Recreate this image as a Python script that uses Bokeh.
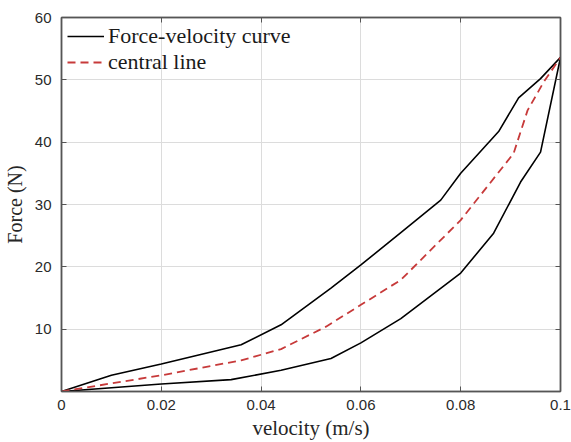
from bokeh.plotting import figure
from bokeh.models import LinearAxis, FixedTicker, Legend, LegendItem, Range1d
from bokeh.embed import file_html
from bokeh.resources import INLINE

# Force-velocity loop: loading (upper) branch and unloading (lower) branch
velocity_upper = [0.0, 0.010, 0.020, 0.036, 0.044, 0.054, 0.060, 0.068, 0.076, 0.080, 0.0876, 0.0916, 0.096, 0.100]
force_upper = [0.0, 2.6, 4.4, 7.5, 10.7, 16.6, 20.3, 25.5, 30.7, 35.0, 41.7, 47.1, 50.2, 53.6]

velocity_lower = [0.0, 0.020, 0.034, 0.044, 0.054, 0.060, 0.068, 0.080, 0.0866, 0.092, 0.096, 0.100]
force_lower = [0.0, 1.2, 1.9, 3.4, 5.3, 7.8, 11.7, 19.0, 25.4, 33.6, 38.4, 53.6]

# Central line
velocity_central = [0.0, 0.020, 0.036, 0.044, 0.053, 0.060, 0.068, 0.080, 0.0906, 0.0934, 0.0966, 0.100]
force_central = [0.0, 2.6, 5.0, 6.8, 10.4, 13.9, 17.9, 27.5, 38.2, 45.1, 49.6, 53.6]

x_ticks = [0, 0.02, 0.04, 0.06, 0.08, 0.1]
x_tick_labels = ["0", "0.02", "0.04", "0.06", "0.08", "0.1"]
y_ticks = [10, 20, 30, 40, 50, 60]
y_tick_labels = ["10", "20", "30", "40", "50", "60"]

loop_v = velocity_upper + velocity_lower[::-1]
loop_f = force_upper + force_lower[::-1]

p = figure(width=571, height=442, output_backend="svg", toolbar_location=None,
           x_range=Range1d(0, 0.1), y_range=Range1d(0, 60),
           min_border_left=60, min_border_right=11, min_border_top=17, min_border_bottom=50,
           x_axis_label="velocity (m/s)", y_axis_label="Force (N)")
p.background_fill_color = "white"
p.border_fill_color = "white"
p.outline_line_color = "#6e6e6e"
p.outline_line_width = 1.5

axis_col = "#555555"
for ax in (p.xaxis[0], p.yaxis[0]):
    ax.axis_line_color = axis_col
    ax.axis_line_width = 1.5
    ax.major_tick_line_color = axis_col
    ax.major_tick_in = 5
    ax.major_tick_out = 0
    ax.minor_tick_line_color = None
    ax.major_label_text_font = "Liberation Sans"
    ax.major_label_text_font_size = "15px"
    ax.major_label_text_color = "#2a2a2a"
    ax.axis_label_text_font = "Liberation Serif"
    ax.axis_label_text_font_style = "normal"
    ax.axis_label_text_color = "#262626"

p.xaxis[0].ticker = FixedTicker(ticks=x_ticks)
p.xaxis[0].major_label_overrides = {t: l for t, l in zip(x_ticks, x_tick_labels)}
p.xaxis[0].major_label_standoff = 8
p.xaxis[0].axis_label_standoff = 3
p.xaxis[0].axis_label_text_font_size = "21px"
p.yaxis[0].ticker = FixedTicker(ticks=y_ticks)
p.yaxis[0].major_label_overrides = {t: l for t, l in zip(y_ticks, y_tick_labels)}
p.yaxis[0].major_label_standoff = 10
p.yaxis[0].axis_label_standoff = 6
p.yaxis[0].axis_label_text_font_size = "20px"

for loc, tk in (("above", x_ticks), ("right", y_ticks)):
    ax = LinearAxis(ticker=FixedTicker(ticks=tk),
                    major_label_overrides={t: "" for t in tk},
                    major_tick_in=5, major_tick_out=0, minor_tick_line_color=None,
                    axis_line_color=axis_col, axis_line_width=1.5,
                    major_tick_line_color=axis_col, major_label_standoff=0)
    p.add_layout(ax, loc)

p.xgrid.ticker = FixedTicker(ticks=x_ticks)
p.ygrid.ticker = FixedTicker(ticks=y_ticks)
p.grid.grid_line_color = "#dcdcdc"
p.grid.grid_line_width = 1

r_loop = p.line(loop_v, loop_f, line_color="black", line_width=1.6)
r_central = p.line(velocity_central, force_central, line_color="#c73a3a", line_width=1.8,
                   line_dash="8 5")

legend = Legend(items=[LegendItem(label="Force-velocity curve", renderers=[r_loop]),
                       LegendItem(label="central line", renderers=[r_central])],
                location="top_left")
legend.border_line_color = None
legend.background_fill_alpha = 0
legend.label_text_font = "Liberation Serif"
legend.label_text_font_size = "22px"
legend.label_text_color = "#1a1a1a"
legend.glyph_width = 37
legend.label_standoff = 4
legend.margin = 6
legend.padding = 6
legend.spacing = 0
legend.label_height = 20
legend.glyph_height = 20
p.add_layout(legend)

open("out.html", "w").write(file_html(p, INLINE))
